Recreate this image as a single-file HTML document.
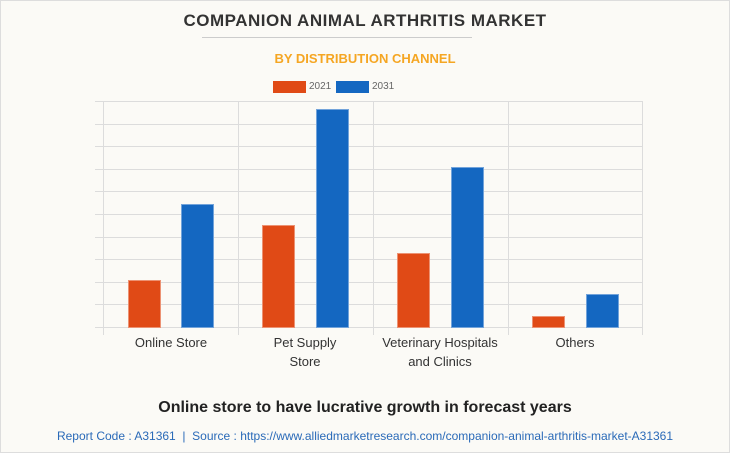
<!DOCTYPE html><html><head><style>
body{margin:0;width:730px;height:453px;background:#fbfaf6;font-family:"Liberation Sans",sans-serif;overflow:hidden}
.b{position:absolute;border:1px solid rgba(255,255,255,.4);box-sizing:border-box}
.o{background:#e04a16}.u{background:#1467c1}
.t{position:absolute;width:100%;text-align:center}
.l{position:absolute;font-size:13px;color:#333;text-align:center;width:130px;line-height:19px}
</style></head><body>
<div style="position:absolute;left:0;top:0;width:728px;height:451px;border:1px solid #ddd"></div>
<div class="t" style="top:11px;font-size:17px;font-weight:bold;color:#333;letter-spacing:.5px">COMPANION ANIMAL ARTHRITIS MARKET</div>
<div style="position:absolute;left:202px;top:37px;width:270px;height:1px;background:#ccc"></div>
<div class="t" style="top:51px;font-size:13px;font-weight:bold;color:#f5a623">BY DISTRIBUTION CHANNEL</div>
<div class="o" style="position:absolute;left:273px;top:81px;width:33px;height:12px"></div>
<div style="position:absolute;left:309px;top:81px;font-size:10px;color:#666">2021</div>
<div class="u" style="position:absolute;left:336px;top:81px;width:33px;height:12px"></div>
<div style="position:absolute;left:372px;top:81px;font-size:10px;color:#666">2031</div>
<svg style="position:absolute;left:0;top:0" width="730" height="453">
<g stroke="#dcdcdc" stroke-width="1">
<line x1="95" x2="642" y1="101.5" y2="101.5"/><line x1="95" x2="642" y1="124.5" y2="124.5"/><line x1="95" x2="642" y1="146.5" y2="146.5"/><line x1="95" x2="642" y1="169.5" y2="169.5"/><line x1="95" x2="642" y1="191.5" y2="191.5"/><line x1="95" x2="642" y1="214.5" y2="214.5"/><line x1="95" x2="642" y1="237.5" y2="237.5"/><line x1="95" x2="642" y1="259.5" y2="259.5"/><line x1="95" x2="642" y1="282.5" y2="282.5"/><line x1="95" x2="642" y1="304.5" y2="304.5"/><line x1="95" x2="642" y1="327.5" y2="327.5"/>
<line x1="103.5" x2="103.5" y1="101" y2="335"/><line x1="238.5" x2="238.5" y1="101" y2="335"/><line x1="373.5" x2="373.5" y1="101" y2="335"/><line x1="508.5" x2="508.5" y1="101" y2="335"/><line x1="642.5" x2="642.5" y1="101" y2="335"/>
</g></svg>
<div class="b o" style="left:128px;top:280px;width:33px;height:48px"></div>
<div class="b u" style="left:181px;top:204px;width:33px;height:124px"></div>
<div class="b o" style="left:262px;top:225px;width:33px;height:103px"></div>
<div class="b u" style="left:316px;top:109px;width:33px;height:219px"></div>
<div class="b o" style="left:397px;top:253px;width:33px;height:75px"></div>
<div class="b u" style="left:451px;top:167px;width:33px;height:161px"></div>
<div class="b o" style="left:532px;top:316px;width:33px;height:12px"></div>
<div class="b u" style="left:586px;top:294px;width:33px;height:34px"></div>
<div class="l" style="left:106px;top:333px">Online Store</div>
<div class="l" style="left:240px;top:333px">Pet Supply<br>Store</div>
<div class="l" style="left:375px;top:333px">Veterinary Hospitals<br>and Clinics</div>
<div class="l" style="left:510px;top:333px">Others</div>
<div class="t" style="top:399px;font-size:16px;font-weight:bold;color:#222">Online store to have lucrative growth in forecast years</div>
<div class="t" style="top:429px;font-size:12px;color:#2a6ab8">Report Code : A31361 &nbsp;|&nbsp; Source : https://www.alliedmarketresearch.com/companion-animal-arthritis-market-A31361</div>
</body></html>
